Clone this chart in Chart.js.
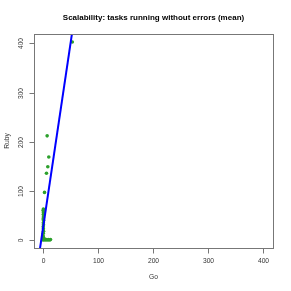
<!DOCTYPE html>
<html>
<head>
<meta charset="utf-8">
<script src="https://cdn.jsdelivr.net/npm/chart.js@4/dist/chart.umd.min.js"></script>
<style>
  html, body { margin: 0; padding: 0; background: #fff; }
  #wrap { width: 291px; height: 291px; }
</style>
</head>
<body>
<div id="wrap"><canvas id="c" width="291" height="291"></canvas></div>
<script>
// Dados
const goValues   = [53.6, 7.8, 10.8, 9.0, 6.6, 3.0, 1.0, 0.5, 1.2, 0.8, 1.0, 0.6, 1.4, 0.9, 1.1, 0.7, 1.0, 1.3, 0.8, 0.5, 1.2, 2, 4, 6, 8, 10, 12, 14, 0.3, 3];
const rubyValues = [403, 212, 169, 149, 136, 97, 63, 60, 56, 52, 47, 43, 40, 35, 31, 27, 23, 18, 14, 9, 5, 1, 0, 1, 0, 1, 0, 1, 0, 2];
const fitX = [-30, 80];
const fitSlope = 7.5;
const fitIntercept = 22;
const xTicks = [0, 100, 200, 300, 400];
const yTicks = [0, 100, 200, 300, 400];
const axisMin = -16.12;
const axisMax = 419.12;

const FONT = 'Liberation Sans, Arial, Helvetica, sans-serif';

const pontos = goValues.map((g, i) => ({ x: g, y: rubyValues[i] }));
const linha = fitX.map(x => ({ x: x, y: fitIntercept + fitSlope * x }));

// Eixos no estilo R
const eixosR = {
  id: 'eixosR',
  afterDraw(chart) {
    const ctx = chart.ctx;
    const area = chart.chartArea;
    const sx = chart.scales.x, sy = chart.scales.y;
    ctx.save();
    ctx.strokeStyle = '#777';
    ctx.lineWidth = 1;
    ctx.strokeRect(Math.round(area.left) + 0.5, Math.round(area.top) + 0.5,
      Math.round(area.right - area.left), Math.round(area.bottom - area.top));

    ctx.fillStyle = '#333';
    ctx.font = '6.7px ' + FONT;
    // eixo x
    ctx.textAlign = 'center';
    ctx.textBaseline = 'middle';
    xTicks.forEach(v => {
      const px = Math.round(sx.getPixelForValue(v)) + 0.5;
      ctx.beginPath();
      ctx.moveTo(px, Math.round(area.bottom) + 0.5);
      ctx.lineTo(px, Math.round(area.bottom) + 5.5);
      ctx.stroke();
      ctx.fillText(String(v), px, area.bottom + 13);
    });
    // eixo y
    yTicks.forEach(v => {
      const py = Math.round(sy.getPixelForValue(v)) + 0.5;
      ctx.beginPath();
      ctx.moveTo(Math.round(area.left) + 0.5, py);
      ctx.lineTo(Math.round(area.left) - 4.5, py);
      ctx.stroke();
      ctx.save();
      ctx.translate(area.left - 12.5, py);
      ctx.rotate(-Math.PI / 2);
      ctx.fillText(String(v), 0, 0);
      ctx.restore();
    });

    // títulos
    ctx.font = '6.7px ' + FONT;
    ctx.fillText('Go', (area.left + area.right) / 2, 277.5);
    ctx.save();
    ctx.translate(7, (area.top + area.bottom) / 2);
    ctx.rotate(-Math.PI / 2);
    ctx.fillText('Ruby', 0, 0);
    ctx.restore();

    ctx.fillStyle = '#000';
    ctx.font = 'bold 8px ' + FONT;
    ctx.fillText('Scalability: tasks running without errors (mean)', (area.left + area.right) / 2, 17.5);
    ctx.restore();
  }
};

new Chart(document.getElementById('c').getContext('2d'), {
  type: 'scatter',
  data: {
    datasets: [
      {
        label: 'medidas',
        data: pontos,
        backgroundColor: '#2ca02c',
        borderColor: '#2ca02c',
        borderWidth: 0,
        pointRadius: 1.8,
        order: 2
      },
      {
        type: 'line',
        label: 'ajuste',
        data: linha,
        borderColor: '#0000ff',
        borderWidth: 2,
        pointRadius: 0,
        fill: false,
        clip: 0,
        order: 1
      }
    ]
  },
  options: {
    responsive: false,
    animation: false,
    devicePixelRatio: 1,
    layout: {
      autoPadding: false,
      padding: { left: 34, top: 34, right: 18, bottom: 43 }
    },
    plugins: {
      legend: { display: false },
      title: { display: false },
      tooltip: { enabled: false }
    },
    scales: {
      x: { type: 'linear', display: false, min: axisMin, max: axisMax },
      y: { type: 'linear', display: false, min: axisMin, max: axisMax }
    }
  },
  plugins: [eixosR]
});
</script>
</body>
</html>
